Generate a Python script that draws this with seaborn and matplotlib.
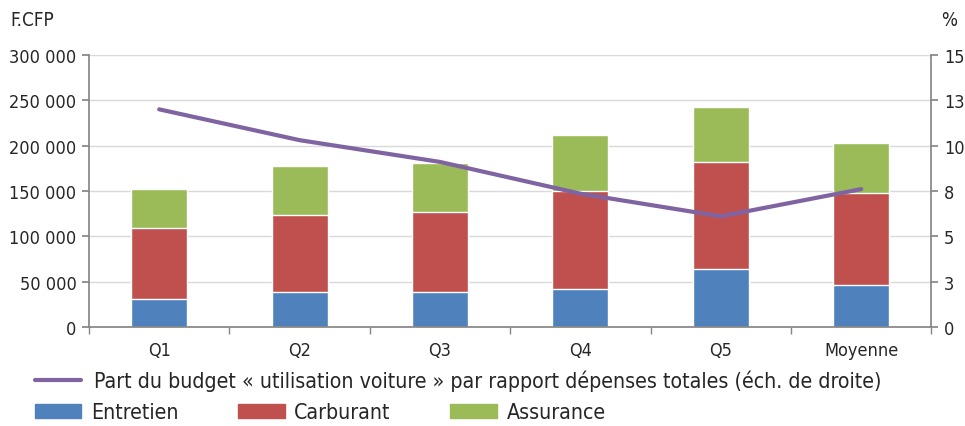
import numpy as np
import pandas as pd
import matplotlib
matplotlib.use('Agg')
import matplotlib.pyplot as plt
import matplotlib.ticker as mticker
from matplotlib.lines import Line2D
from matplotlib.patches import Patch
import seaborn as sns

sns.set_theme(style='white')
plt.rcParams['font.family'] = ['DejaVu Sans']
plt.rcParams['font.stretch'] = 'condensed'

# Données
categories = ['Q1', 'Q2', 'Q3', 'Q4', 'Q5', 'Moyenne']
entretien = [30400, 38100, 38100, 42100, 63800, 46600]
carburant = [79200, 85800, 89100, 107900, 118500, 100900]
assurance = [42300, 53900, 53600, 61300, 60500, 55000]
part_budget = [12.0, 10.3, 9.1, 7.35, 6.1, 7.6]

c_blue = '#4F81BD'
c_red = '#C0504D'
c_green = '#9BBB59'
c_purple = '#8064A2'

df = pd.DataFrame({'cat': categories, 'Entretien': entretien,
                   'Carburant': carburant, 'Assurance': assurance,
                   'part': part_budget})
df['cum_red'] = df['Entretien'] + df['Carburant']
df['cum_green'] = df['cum_red'] + df['Assurance']

fig = plt.figure(figsize=(9.65, 4.27), dpi=100)
ax = fig.add_axes([0.0922, 0.232, 0.873, 0.637])

# barres empilées : on dessine les cumuls du plus haut au plus bas
for col, color in [('cum_green', c_green), ('cum_red', c_red), ('Entretien', c_blue)]:
    sns.barplot(data=df, x='cat', y=col, color=color, width=0.4,
                saturation=1, ax=ax, zorder=2)

ax.set_ylim(0, 300000)
ax.set_xlim(-0.5, 5.5)
ax.set_yticks(np.arange(0, 300001, 50000))
ax.yaxis.set_major_formatter(mticker.FuncFormatter(
    lambda v, p: f'{int(v):,}'.replace(',', ' ')))
ax.set_xlabel('')
ax.set_ylabel('')
ax.grid(axis='y', color='#D9D9D9', linewidth=1, zorder=0)
ax.set_axisbelow(True)

# ticks entre les catégories
ax.set_xticks(np.arange(6))
ax.set_xticklabels(categories, fontsize=13)
ax.set_xticks(np.arange(-0.5, 6, 1), minor=True)
ax.tick_params(axis='x', which='major', length=0, pad=10)
ax.tick_params(axis='x', which='minor', length=5, color='#868686', direction='out')
ax.tick_params(axis='y', length=5, color='#868686', direction='out', labelsize=13, pad=4)
ax.yaxis.set_ticks_position('left')
ax.xaxis.set_ticks_position('bottom')

for s in ['top', 'right']:
    ax.spines[s].set_visible(False)
for s in ['left', 'bottom']:
    ax.spines[s].set_color('#868686')

# courbe échelle de droite
ax2 = ax.twinx()
sns.lineplot(x=np.arange(6), y=df['part'].values, color=c_purple,
             linewidth=3, ax=ax2)
ax2.set_ylim(0, 15)
ax2.set_yticks(np.arange(0, 15.1, 2.5))
ax2.yaxis.set_major_formatter(mticker.FuncFormatter(
    lambda v, p: f'{int(v + 0.5)}'))
ax2.tick_params(axis='y', length=5, color='#868686', direction='out', labelsize=13, pad=4)
for s in ['top', 'left', 'bottom']:
    ax2.spines[s].set_visible(False)
ax2.spines['right'].set_color('#868686')
ax2.grid(False)

fig.text(0.011, 0.953, 'F.CFP', fontsize=13.5, va='center', ha='left')
fig.text(0.992, 0.953, '%', fontsize=13.5, va='center', ha='right')

# légendes
leg1 = fig.legend(handles=[Line2D([0], [0], color=c_purple, lw=3)],
                  labels=['Part du budget « utilisation voiture » par rapport dépenses totales (éch. de droite)'],
                  loc='center left', bbox_to_anchor=(0.027, 0.107), frameon=False,
                  fontsize=15.3, handlelength=2.2, handletextpad=0.6, borderaxespad=0)
patches = [Patch(color=c_blue), Patch(color=c_red), Patch(color=c_green)]
leg2 = fig.legend(handles=patches, labels=['Entretien', 'Carburant', 'Assurance'],
                  loc='center left', bbox_to_anchor=(0.027, 0.032), frameon=False,
                  ncol=3, fontsize=15.3, handlelength=2.2, handleheight=0.63,
                  handletextpad=0.45, columnspacing=2.8, borderaxespad=0)

fig.savefig('out.png', dpi=100)
